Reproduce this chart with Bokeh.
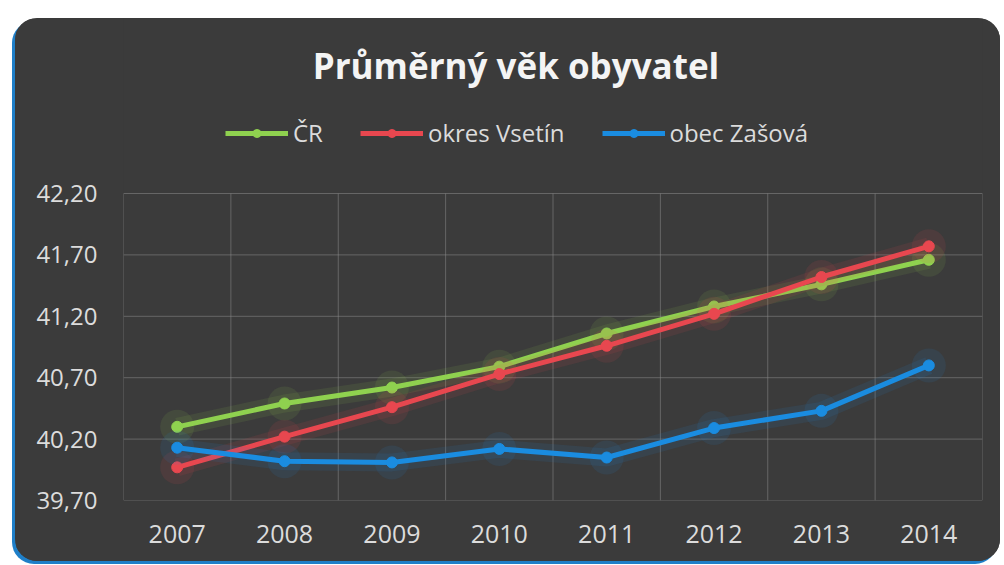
from bokeh.plotting import figure
from bokeh.models import Legend, LegendItem, FixedTicker, Range1d, CustomJSTickFormatter, Label
from bokeh.embed import file_html
from bokeh.resources import INLINE

years = ["2007", "2008", "2009", "2010", "2011", "2012", "2013", "2014"]
cr = [40.30, 40.49, 40.62, 40.79, 41.06, 41.28, 41.46, 41.66]
vsetin = [39.97, 40.22, 40.46, 40.73, 40.96, 41.22, 41.52, 41.77]
zasova = [40.13, 40.02, 40.01, 40.12, 40.05, 40.29, 40.43, 40.80]
y_ticks = [39.70, 40.20, 40.70, 41.20, 41.70, 42.20]

series = [("ČR", cr, "#8fd14f"), ("okres Vsetín", vsetin, "#e8474f"), ("obec Zašová", zasova, "#1a8ce0")]

BG = "#3b3b3b"
GRID = "#8a8a8a"
FONT = "Open Sans"

# layout (pixels): figure 985x543 placed at (15, 18); plotting box 307 px tall
W, H = 985, 543
BORDER_L, BORDER_R, BORDER_B = 108, 18, 61
FRAME_H = H - BORDER_B
BOX_H = 307
y_lo, y_hi = y_ticks[0], y_ticks[-1]
per_px = (y_hi - y_lo) / BOX_H
y_top = y_lo + FRAME_H * per_px

p = figure(width=W, height=H, x_range=years, y_range=Range1d(y_lo, y_top),
           output_backend="svg", toolbar_location=None,
           background_fill_color=BG, border_fill_color=BG,
           min_border_left=BORDER_L, min_border_right=BORDER_R,
           min_border_bottom=BORDER_B, min_border_top=0)
p.styles = {"margin-left": "15px", "margin-top": "18px", "border-radius": "22px",
            "overflow": "hidden", "box-shadow": "-3px 3px 0 #1f7fc8",
            "background-color": BG}
p.outline_line_alpha = 0
p.grid.visible = False

# plotting box grid
n = len(years)
p.segment(x0=[0] * len(y_ticks), y0=y_ticks, x1=[n] * len(y_ticks), y1=y_ticks,
          line_color=GRID, line_alpha=0.55, line_width=1)
p.segment(x0=list(range(n + 1)), y0=[y_lo] * (n + 1), x1=list(range(n + 1)), y1=[y_hi] * (n + 1),
          line_color=GRID, line_alpha=0.55, line_width=1)

# title
p.add_layout(Label(x=n / 2, y=y_hi + 128 * per_px, x_offset=-37,
                   text="Průměrný věk obyvatel", text_align="center",
                   text_baseline="alphabetic", text_color="#f4f4f4", text_font=FONT,
                   text_font_size="35px", text_font_style="bold"))

# axes
p.yaxis.ticker = FixedTicker(ticks=y_ticks)
p.yaxis.formatter = CustomJSTickFormatter(code="return tick.toFixed(2).replace('.', ',');")
for ax in (p.xaxis[0], p.yaxis[0]):
    ax.axis_line_alpha = 0
    ax.major_tick_line_alpha = 0
    ax.minor_tick_line_alpha = 0
    ax.major_label_text_color = "#dcdcdc"
    ax.major_label_text_font = FONT
p.yaxis.major_label_text_font_size = "24px"
p.yaxis.major_label_standoff = 20
p.xaxis.major_label_text_font_size = "25px"
p.xaxis.major_label_standoff = 18

items = []
for name, vals, col in series:
    p.line(years, vals, line_color=col, line_width=18, line_alpha=0.10)
    p.scatter(years, vals, size=34, fill_color=col, fill_alpha=0.10, line_alpha=0)
    r1 = p.line(years, vals, line_color=col, line_width=5)
    r2 = p.scatter(years, vals, size=11, fill_color=col, line_color=col)
    items.append(LegendItem(label=name, renderers=[r1, r2]))

legend = Legend(items=items, orientation="horizontal", location=(98, FRAME_H - 117 - 18),
                background_fill_alpha=0, border_line_alpha=0,
                label_text_color="#dcdcdc", label_text_font=FONT, label_text_font_size="24px",
                glyph_width=63, glyph_height=20, spacing=37, label_standoff=5,
                padding=4, margin=0)
p.add_layout(legend, "center")

open("out.html", "w").write(file_html(p, INLINE))
